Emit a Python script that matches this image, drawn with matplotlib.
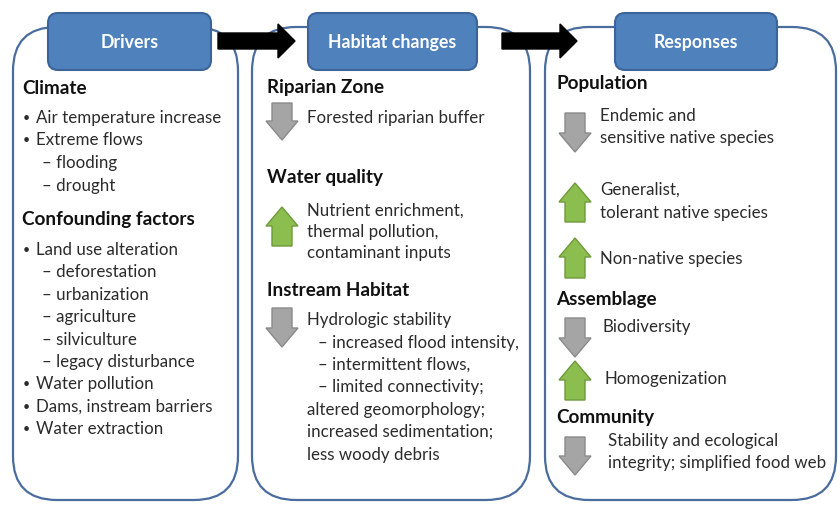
import matplotlib
matplotlib.use("Agg")
import matplotlib.pyplot as plt
from matplotlib.patches import FancyBboxPatch, Polygon

plt.rcParams['font.family'] = ['Lato', 'DejaVu Sans']

# ---- content ----
headers = ["Drivers", "Habitat changes", "Responses"]

drivers_lines = [
    ("h", "Climate"),
    ("b", "Air temperature increase"),
    ("b", "Extreme flows"),
    ("d", "flooding"),
    ("d", "drought"),
    ("h", "Confounding factors"),
    ("b", "Land use alteration"),
    ("d", "deforestation"),
    ("d", "urbanization"),
    ("d", "agriculture"),
    ("d", "silviculture"),
    ("d", "legacy disturbance"),
    ("b", "Water pollution"),
    ("b", "Dams, instream barriers"),
    ("b", "Water extraction"),
]
drivers_y = [88, 118, 140, 163, 186, 220, 250, 272, 295, 317, 340, 362, 384, 407, 429]

habitat_heads = ["Riparian Zone", "Water quality", "Instream Habitat"]
habitat_head_y = [88, 178, 290]
habitat_dirs = ["down", "up", "down"]
habitat_arrow_y = [(103, 140), (207, 246), (308, 347)]
habitat_text = [
    [("Forested riparian buffer", 307, 118)],
    [("Nutrient enrichment,", 307, 211), ("thermal pollution,", 307, 232), ("contaminant inputs", 307, 253)],
    [("Hydrologic stability", 307, 320), ("\u2013 increased flood intensity,", 318, 343),
     ("\u2013 intermittent flows,", 318, 365), ("\u2013 limited connectivity;", 318, 387),
     ("altered geomorphology;", 307, 410), ("increased sedimentation;", 307, 432),
     ("less woody debris", 307, 455)],
]

resp_heads = ["Population", "Assemblage", "Community"]
resp_head_y = [83, 300, 417]
resp_dirs = ["down", "up", "up", "down", "up", "down"]
resp_arrow_y = [(113, 152), (183, 222), (238, 278), (318, 357), (361, 400), (437, 475)]
resp_text = [
    [("Endemic and", 600, 116), ("sensitive native species", 600, 138)],
    [("Generalist,", 600, 190), ("tolerant native species", 600, 213)],
    [("Non-native species", 600, 259)],
    [("Biodiversity", 603, 327)],
    [("Homogenization", 605, 379)],
    [("Stability and ecological", 608, 441), ("integrity; simplified food web", 608, 463)],
]

# ---- styles ----
BLUE = "#4f81bd"
BLUE_EDGE = "#3b659a"
PANEL_EDGE = "#4a6c9e"
GRAY = "#a5a5a5"
GRAY_EDGE = "#8a8a8a"
GREEN = "#8cbd4f"
GREEN_EDGE = "#6f9a3a"
TXT = "#2b2b2b"
HEAD = "#111111"
FS = 12.2
HFS = 13.6

fig = plt.figure(figsize=(8.4, 5.05), dpi=100)
ax = fig.add_axes([0, 0, 1, 1])
ax.set_xlim(0, 840)
ax.set_ylim(505, 0)
ax.axis("off")

# panels
panels = [(13, 27, 225, 473), (252, 27, 278, 473), (545, 27, 291, 473)]
for (x, y, w, h) in panels:
    ax.add_patch(FancyBboxPatch((x, y), w, h, boxstyle="round,pad=0,rounding_size=44",
                                fc="white", ec=PANEL_EDGE, lw=1.6, zorder=1))

# header boxes
hboxes = [(48, 13, 163, 57), (308, 13, 169, 57), (615, 13, 162, 57)]
for (x, y, w, h), label in zip(hboxes, headers):
    ax.add_patch(FancyBboxPatch((x, y), w, h, boxstyle="round,pad=0,rounding_size=10",
                                fc=BLUE, ec=BLUE_EDGE, lw=1.5, zorder=3))
    ax.text(x + w / 2, y + h / 2 + 1, label, color="white", fontsize=12.8,
            fontweight="bold", ha="center", va="center", zorder=4)

# black arrows between headers
def black_arrow(x0, x1, yc):
    sh = 8
    hh = 17
    hl = 17
    pts = [(x0, yc - sh), (x1 - hl, yc - sh), (x1 - hl, yc - hh), (x1, yc),
           (x1 - hl, yc + hh), (x1 - hl, yc + sh), (x0, yc + sh)]
    ax.add_patch(Polygon(pts, closed=True, fc="black", ec="black", lw=1, zorder=5))

black_arrow(218, 295, 41)
black_arrow(502, 577, 41)

def block_arrow(xc, ytop, ybot, direction, fc, ec):
    sw = 10
    hw = 16
    hl = 19
    if direction == "down":
        pts = [(xc - sw, ytop), (xc + sw, ytop), (xc + sw, ybot - hl), (xc + hw, ybot - hl),
               (xc, ybot), (xc - hw, ybot - hl), (xc - sw, ybot - hl)]
    else:
        pts = [(xc - sw, ybot), (xc + sw, ybot), (xc + sw, ytop + hl), (xc + hw, ytop + hl),
               (xc, ytop), (xc - hw, ytop + hl), (xc - sw, ytop + hl)]
    ax.add_patch(Polygon(pts, closed=True, fc=fc, ec=ec, lw=1, zorder=5))

def arrow_for(direction, xc, y0, y1):
    if direction == "down":
        block_arrow(xc, y0, y1, "down", GRAY, GRAY_EDGE)
    else:
        block_arrow(xc, y0, y1, "up", GREEN, GREEN_EDGE)

# panel 1 text
for (kind, s), y in zip(drivers_lines, drivers_y):
    if kind == "h":
        ax.text(22, y, s, fontsize=HFS, fontweight="bold", color=HEAD, va="center", ha="left")
    elif kind == "b":
        ax.text(23, y, "\u2022", fontsize=9, color=TXT, va="center", ha="left")
        ax.text(36, y, s, fontsize=FS, color=TXT, va="center", ha="left")
    else:
        ax.text(42, y, "\u2013 " + s, fontsize=FS, color=TXT, va="center", ha="left")

# panel 2
for head, hy, d, (a0, a1), lines in zip(habitat_heads, habitat_head_y, habitat_dirs,
                                        habitat_arrow_y, habitat_text):
    ax.text(267, hy, head, fontsize=HFS, fontweight="bold", color=HEAD, va="center", ha="left")
    arrow_for(d, 282, a0, a1)
    for s, x, y in lines:
        ax.text(x, y, s, fontsize=FS, color=TXT, va="center", ha="left")

# panel 3
for head, hy in zip(resp_heads, resp_head_y):
    ax.text(556, hy, head, fontsize=HFS, fontweight="bold", color=HEAD, va="center", ha="left")
for d, (a0, a1), lines in zip(resp_dirs, resp_arrow_y, resp_text):
    arrow_for(d, 575, a0, a1)
    for s, x, y in lines:
        ax.text(x, y, s, fontsize=FS, color=TXT, va="center", ha="left")

fig.savefig("out.png", dpi=100, facecolor="white")
